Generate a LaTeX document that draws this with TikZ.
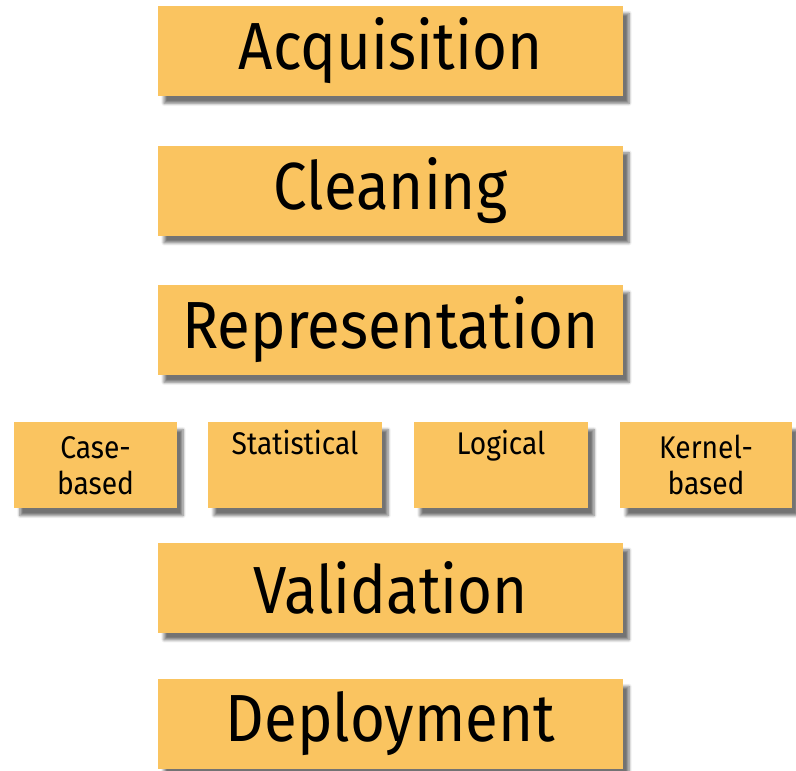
\documentclass[tikz,border=0pt]{standalone}
\usepackage{fontspec}
\setmainfont{Fira Sans}[FakeStretch=0.9]
\usetikzlibrary{shadows.blur}
\definecolor{boxfill}{RGB}{250,196,96}
\tikzset{
  stage/.style={rectangle, fill=boxfill, minimum width=465*0.75pt, minimum height=90*0.75pt,
    inner sep=0pt, font=\fontsize{50}{56}\selectfont,
    blur shadow={shadow xshift=4.5pt, shadow yshift=-5.5pt, shadow blur steps=6, shadow opacity=55}},
  kind/.style={rectangle, fill=boxfill, minimum height=86*0.75pt, inner sep=0pt,
    align=center, font=\fontsize{23.5}{27}\selectfont, anchor=north,
    blur shadow={shadow xshift=4.5pt, shadow yshift=-5.5pt, shadow blur steps=6, shadow opacity=55}},
}
\begin{document}
\begin{tikzpicture}[x=0.75pt,y=-0.75pt]
\useasboundingbox (0,0) rectangle (796,771);
\node[stage] (acq) at (390.5,51) {Acquisition};
\node[stage] (cln) at (390.5,190.5) {Cleaning};
\node[stage] (rep) at (390.5,330) {Representation};
\node[kind, minimum width=163*0.75pt] (cb) at (95.5,422) {Case-\\based};
\node[kind, minimum width=174*0.75pt] (st) at (295,422) {Statistical\\\strut};
\node[kind, minimum width=174*0.75pt] (lg) at (501,422) {Logical\\\strut};
\node[kind, minimum width=172*0.75pt] (kb) at (706,422) {Kernel-\\based};
\node[stage] (val) at (390.5,587.5) {Validation};
\node[stage] (dep) at (390.5,724) {Deployment};
\end{tikzpicture}
\end{document}
